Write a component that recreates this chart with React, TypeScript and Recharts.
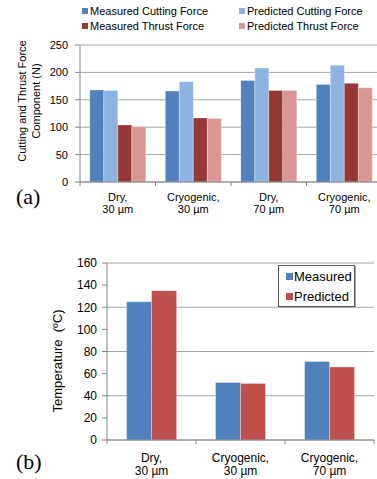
import { BarChart, Bar, XAxis, YAxis, CartesianGrid, Legend } from "recharts";

// (a) forces
const forceConditions = ["Dry,\n30 µm", "Cryogenic,\n30 µm", "Dry,\n70 µm", "Cryogenic,\n70 µm"];
const forceSeries = ["Measured Cutting Force", "Predicted Cutting Force", "Measured Thrust Force", "Predicted Thrust Force"];
const measuredCutting = [168, 166, 185, 178];
const predictedCutting = [167, 183, 208, 213];
const measuredThrust = [104, 117, 167, 180];
const predictedThrust = [101, 116, 167, 172];
const forceTicks = [0, 50, 100, 150, 200, 250];

// (b) temperature
const tempConditions = ["Dry,\n30 µm", "Cryogenic,\n30 µm", "Cryogenic,\n70 µm"];
const tempSeries = ["Measured", "Predicted"];
const measuredTemp = [125, 52, 71];
const predictedTemp = [135, 51, 66];
const tempTicks = [0, 20, 40, 60, 80, 100, 120, 140, 160];

const FONT = "'Liberation Sans', Arial, sans-serif";
const SERIF = "'Liberation Serif', 'Times New Roman', serif";
const AXIS = "#868686";
const GRID = "#A6A6A6";

const forceData = forceConditions.map((c, i) => ({
    cond: c,
    mc: measuredCutting[i],
    pc: predictedCutting[i],
    mt: measuredThrust[i],
    pt: predictedThrust[i],
}));

const tempData = tempConditions.map((c, i) => ({
    cond: c,
    measured: measuredTemp[i],
    predicted: predictedTemp[i],
}));

// two-line category label + tick marks on the category boundaries
function makeTick(band: number, count: number, fontSize: number, l1: number, l2: number) {
    return (props: any) => {
        const { x, y, payload, index } = props;
        const [a, b] = String(payload.value).split("\n");
        return (
            <g>
                <line x1={x - band / 2} x2={x - band / 2} y1={y} y2={y + 4} stroke={AXIS} />
                {index === count - 1 && (
                    <line x1={x + band / 2} x2={x + band / 2} y1={y} y2={y + 4} stroke={AXIS} />
                )}
                <text x={x} y={y + l1} textAnchor="middle" fontSize={fontSize} fill="#000" fontFamily={FONT}>
                    {a}
                </text>
                <text x={x} y={y + l2} textAnchor="middle" fontSize={fontSize} fill="#000" fontFamily={FONT}>
                    {b}
                </text>
            </g>
        );
    };
}

const ordered = (payload: any[], names: string[]) =>
    [...(payload || [])].sort((a, b) => names.indexOf(a.value) - names.indexOf(b.value));

const ForceLegend = (props: any) => (
    <div
        style={{
            display: "grid",
            gridTemplateColumns: "157px auto",
            gridAutoRows: "15px",
            fontFamily: FONT,
            fontSize: 11,
            color: "#000",
        }}
    >
        {ordered(props.payload, forceSeries).map((p: any) => (
            <div key={p.value} style={{ display: "flex", alignItems: "center", whiteSpace: "nowrap" }}>
                <span style={{ width: 6, height: 6, background: p.color, marginRight: 2, display: "inline-block" }} />
                {p.value}
            </div>
        ))}
    </div>
);

const TempLegend = (props: any) => (
    <div
        style={{
            border: "1px solid #555",
            boxShadow: "1px 1px 0 #aaa",
            background: "#fff",
            width: 75,
            height: 40,
            fontFamily: FONT,
            fontSize: 13,
            color: "#000",
        }}
    >
        {ordered(props.payload, tempSeries).map((p: any) => (
            <div key={p.value} style={{ display: "flex", alignItems: "center", height: 20, paddingLeft: 7 }}>
                <span style={{ width: 7, height: 7, background: p.color, marginRight: 1, display: "inline-block" }} />
                {p.value}
            </div>
        ))}
    </div>
);

export default function App() {
    const tickA = makeTick(75.5, forceData.length, 11, 19, 31);
    const tickB = makeTick(89, tempData.length, 12, 22, 35);
    const tickStyleA = { fontSize: 11, fill: "#000", fontFamily: FONT };
    const tickStyleB = { fontSize: 12, fill: "#000", fontFamily: FONT };

    return (
        <div style={{ position: "fixed", top: 0, left: 0, width: 377, height: 479, overflow: "hidden", background: "#fff" }}>
            <div style={{ position: "absolute", top: 0, left: 0 }}>
                <BarChart
                    width={390}
                    height={240}
                    data={forceData}
                    margin={{ top: 45, right: 8, left: 0, bottom: 0 }}
                    barCategoryGap="13%"
                    barGap={0}
                >
                    <CartesianGrid vertical={false} stroke={GRID} />
                    <XAxis
                        dataKey="cond"
                        height={58}
                        interval={0}
                        tickSize={0}
                        tickMargin={0}
                        tick={tickA}
                        axisLine={{ stroke: AXIS }}
                    />
                    <YAxis
                        width={80}
                        domain={[0, 250]}
                        ticks={forceTicks}
                        tickSize={5}
                        tickMargin={7}
                        tick={tickStyleA}
                        axisLine={{ stroke: AXIS }}
                        tickLine={{ stroke: AXIS }}
                        label={{
                            content: () => (
                                <g fontFamily={FONT} fontSize={11} fill="#000">
                                    <text transform="translate(22,101) rotate(-90)" textAnchor="middle" dominantBaseline="central">
                                        Cutting and Thrust Force
                                    </text>
                                    <text transform="translate(36,101) rotate(-90)" textAnchor="middle" dominantBaseline="central">
                                        Component (N)
                                    </text>
                                </g>
                            ),
                        }}
                    />
                    <Legend
                        layout="horizontal"
                        verticalAlign="middle"
                        align="center"
                        content={<ForceLegend />}
                        wrapperStyle={{ top: 3, left: 82, width: 300, height: 30 }}
                    />
                    <Bar dataKey="mc" name={forceSeries[0]} fill="#4F81BD" stroke="#fff" strokeOpacity={0.3} isAnimationActive={false} />
                    <Bar dataKey="pc" name={forceSeries[1]} fill="#8DB3E2" stroke="#fff" strokeOpacity={0.3} isAnimationActive={false} />
                    <Bar dataKey="mt" name={forceSeries[2]} fill="#953735" stroke="#fff" strokeOpacity={0.3} isAnimationActive={false} />
                    <Bar dataKey="pt" name={forceSeries[3]} fill="#D99694" stroke="#fff" strokeOpacity={0.3} isAnimationActive={false} />
                </BarChart>
            </div>

            <div style={{ position: "absolute", top: 186, left: 16, fontFamily: SERIF, fontSize: 22, lineHeight: "22px", color: "#000" }}>
                (a)
            </div>

            <div style={{ position: "absolute", top: 240, left: 0 }}>
                <BarChart
                    width={377}
                    height={239}
                    data={tempData}
                    margin={{ top: 23, right: 3, left: 0, bottom: 0 }}
                    barCategoryGap="22%"
                    barGap={0}
                >
                    <CartesianGrid vertical={false} stroke={GRID} />
                    <XAxis
                        dataKey="cond"
                        height={39}
                        interval={0}
                        tickSize={0}
                        tickMargin={0}
                        tick={tickB}
                        axisLine={{ stroke: AXIS }}
                    />
                    <YAxis
                        width={107}
                        domain={[0, 160]}
                        ticks={tempTicks}
                        tickSize={5}
                        tickMargin={5}
                        tick={tickStyleB}
                        axisLine={{ stroke: AXIS }}
                        tickLine={{ stroke: AXIS }}
                        label={{
                            content: () => (
                                <text
                                    transform="translate(57,121) rotate(-90)"
                                    textAnchor="middle"
                                    dominantBaseline="central"
                                    fontFamily={FONT}
                                    fontSize={13}
                                    fill="#000"
                                    style={{ whiteSpace: "pre" }}
                                >
                                    {"Temperature  (ºC)"}
                                </text>
                            ),
                        }}
                    />
                    <Legend
                        layout="vertical"
                        verticalAlign="middle"
                        align="center"
                        content={<TempLegend />}
                        wrapperStyle={{ top: 25, left: 278, width: 80, height: 44 }}
                    />
                    <Bar dataKey="measured" name={tempSeries[0]} fill="#4F81BD" stroke="#fff" strokeOpacity={0.3} isAnimationActive={false} />
                    <Bar dataKey="predicted" name={tempSeries[1]} fill="#C0504D" stroke="#fff" strokeOpacity={0.3} isAnimationActive={false} />
                </BarChart>
            </div>

            <div style={{ position: "absolute", top: 451, left: 16, fontFamily: SERIF, fontSize: 22, lineHeight: "22px", color: "#000" }}>
                (b)
            </div>
        </div>
    );
}
